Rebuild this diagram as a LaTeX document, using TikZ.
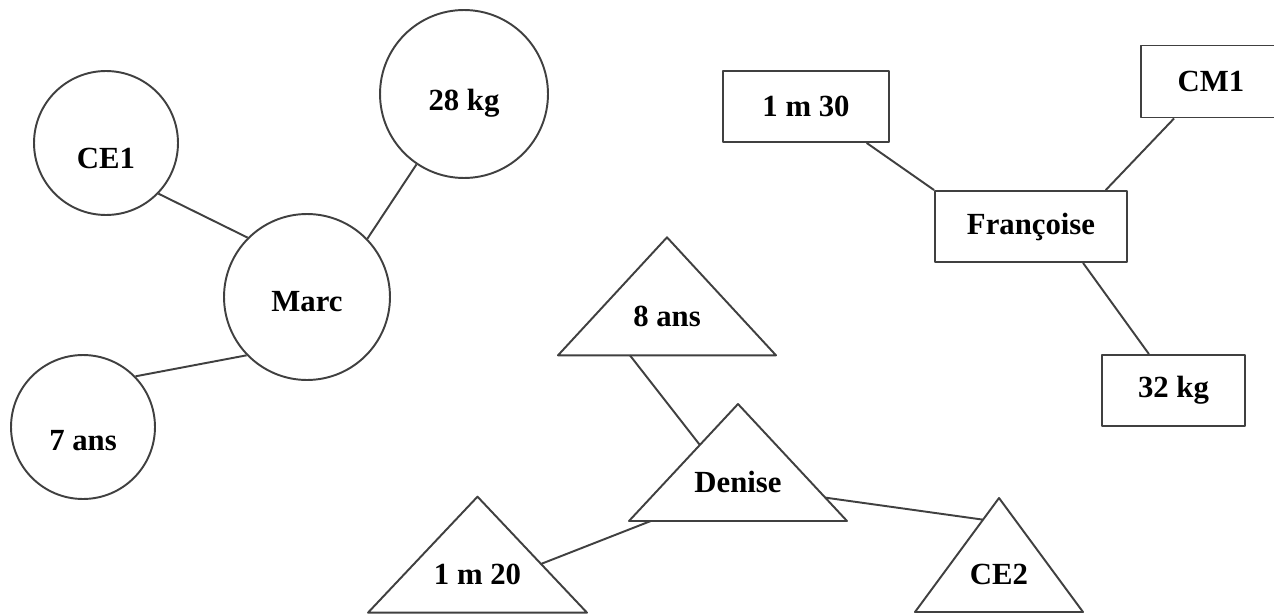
\documentclass[tikz,border=0pt]{standalone}
\usepackage{fontspec}
\setmainfont{Liberation Serif}
\usetikzlibrary{calc}

\newcommand{\etiqfont}{\bfseries\fontsize{17.5}{21}\selectfont}
% triangle round a label node: #1 name, #2 half base, #3 height (px)
\newcommand{\tridraw}[3]{%
  \coordinate (#1-t) at ($(#1)+(0,{-2*#3/3})$);
  \coordinate (#1-l) at ($(#1)+({-#2},{#3/3})$);
  \coordinate (#1-r) at ($(#1)+(#2,{#3/3})$);
  \draw[trait] (#1-t) -- (#1-l) -- (#1-r) -- cycle;
}

\begin{document}
\begin{tikzpicture}[x=0.02cm, y=-0.02cm,
  trait/.style={draw=black!75, line width=1.1pt, line join=round},
  rond/.style={circle, trait, inner sep=0pt},
  cadre/.style={rectangle, trait, minimum height=1.42cm, inner sep=0pt, font=\etiqfont},
  etiq/.style={font=\etiqfont}]
  \clip (0,0) rectangle (1274,615);
  \fill[white] (0,0) rectangle (1274,615);

  % Marc
  \node[rond, minimum size=2.88cm, label={[etiq,yshift=-0.3cm]center:CE1}] (ce1) at (106,143) {};
  \node[rond, minimum size=3.36cm, label={[etiq,yshift=-0.18cm]center:28 kg}] (kg28) at (464,94) {};
  \node[rond, minimum size=3.32cm, label={[etiq,yshift=-0.1cm]center:Marc}] (marc) at (307,297) {};
  \node[rond, minimum size=2.88cm, label={[etiq,yshift=-0.28cm]center:7 ans}] (ans7) at (83,427) {};

  \draw[trait] (ce1.-44) -- (marc.135);
  \draw[trait] (kg28.-124) -- (marc.44);
  \draw[trait] (ans7.44) -- (marc.-136);

  % Françoise
  \node[cadre, minimum width=3.32cm] (m130) at (806,106.5) {1 m 30};
  \node[cadre, minimum width=2.8cm, minimum height=1.44cm] (cm1) at (1211,81.5) {CM1};
  \node[cadre, minimum width=3.84cm] (franc) at (1031,226.5) {Françoise};
  \node[cadre, minimum width=2.86cm] (kg32) at (1173.5,390.5) {32 kg};

  \draw[trait] (m130.-31) -- (franc.north west);
  \draw[trait] (cm1.-135) -- (franc.26);
  \draw[trait] (franc.-35) -- (kg32.124);

  % Denise
  \node[etiq] (ans8) at (667,316) {8 ans};
  \tridraw{ans8}{109}{118}
  \node[etiq] (denise) at (738,482) {Denise};
  \tridraw{denise}{109}{117}
  \node[etiq] (m120) at (477.5,574) {1 m 20};
  \tridraw{m120}{109.5}{116}
  \node[etiq] (ce2) at (999,574) {CE2};
  \tridraw{ce2}{84}{114}

  \draw[trait] ($(ans8-l)!0.33!(ans8-r)$) -- ($(denise-l)!0.65!(denise-t)$);
  \draw[trait] ($(denise-l)!0.1!(denise-r)$) -- ($(m120-r)!0.42!(m120-t)$);
  \draw[trait] ($(denise-r)!0.2!(denise-t)$) -- ($(ce2-l)!0.81!(ce2-t)$);
\end{tikzpicture}
\end{document}
